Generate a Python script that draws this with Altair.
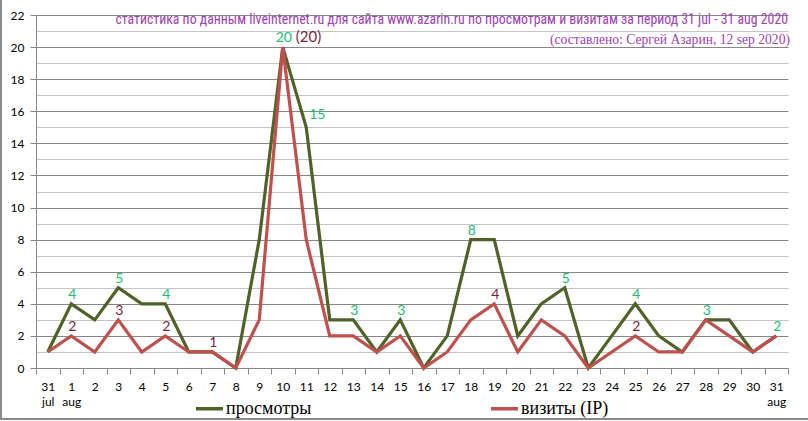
import json
import altair as alt
import pandas as pd

# ---- data -------------------------------------------------------------
days = ["31", "1", "2", "3", "4", "5", "6", "7", "8", "9", "10", "11", "12", "13", "14", "15",
        "16", "17", "18", "19", "20", "21", "22", "23", "24", "25", "26", "27", "28", "29", "30", "31"]
months = ["jul", "aug"] + [""] * 29 + ["aug"]
views = [1, 4, 3, 5, 4, 4, 1, 1, 0, 8, 20, 15, 3, 3, 1, 3,
         0, 2, 8, 8, 2, 4, 5, 0, 2, 4, 2, 1, 3, 3, 1, 2]
visits = [1, 2, 1, 3, 1, 2, 1, 1, 0, 3, 20, 8, 2, 2, 1, 2,
          0, 1, 3, 4, 1, 3, 2, 0, 1, 2, 1, 1, 3, 2, 1, 2]
series_names = ["просмотры", "визиты (IP)"]
views_labeled = [1, 3, 5, 10, 11, 13, 15, 18, 22, 25, 28, 31]
visits_labeled = [1, 3, 5, 7, 10, 19, 25]
title_text = ["статистика по данным liveinternet.ru для сайта www.azarin.ru по просмотрам и визитам за период 31 jul - 31 aug 2020"]
subtitle_text = ["(составлено: Сергей Азарин, 12 sep 2020)"]

# ---- styling ----------------------------------------------------------
GREEN = "#4f6228"
RED = "#c0504d"
GREEN_LBL = "#22bb77"
RED_LBL = "#7a1f40"
TITLE_CLR = "#a040b0"
AXIS_GREY = "#868686"
W, H = 752, 353
n = len(days)
step = W / n

rows = []
for i in range(n):
    rows.append({"idx": i, "series": series_names[0], "value": views[i],
                 "lab": 1 if i in views_labeled else 0,
                 "text": str(views[i])})
    rows.append({"idx": i, "series": series_names[1], "value": visits[i],
                 "lab": 1 if i in visits_labeled else 0,
                 "text": str(visits[i])})
df = pd.DataFrame(rows)

days_js = json.dumps(days)
months_js = json.dumps(months)
label_expr = (
    f"(datum.value + 0.5) > {n - 1} ? '' : "
    f"({months_js}[datum.value + 0.5] ? [{days_js}[datum.value + 0.5], {months_js}[datum.value + 0.5]]"
    f" : {days_js}[datum.value + 0.5])"
)

x_enc = alt.X(
    "idx:Q",
    scale=alt.Scale(domain=[-0.5, n - 0.5], nice=False, zero=False),
    axis=alt.Axis(
        values=[i - 0.5 for i in range(n + 1)],
        labelExpr=label_expr,
        labelOffset=step / 2,
        labelOverlap=False,
        labelBound=False,
        labelFlush=False,
        labelFont="Lato",
        labelFontSize=12,
        labelColor="#000000",
        labelPadding=7,
        labelLineHeight=15,
        labelBaseline="top",
        tickSize=6,
        tickColor=AXIS_GREY,
        domainColor=AXIS_GREY,
        grid=False,
        title=None,
    ),
)
y_enc = alt.Y(
    "value:Q",
    scale=alt.Scale(domain=[0, 22], nice=False, zero=True),
    axis=alt.Axis(
        values=list(range(23)),
        labelExpr="datum.value % 2 === 0 ? datum.label : ''",
        labelFont="Lato",
        labelFontSize=12,
        labelColor="#000000",
        labelPadding=6,
        tickSize=6,
        tickColor=AXIS_GREY,
        tickOpacity={"condition": {"test": "datum.value % 2 === 0", "value": 1}, "value": 0},
        gridColor={"condition": {"test": "datum.value % 2 === 0", "value": AXIS_GREY}, "value": "#c4c4c4"},
        gridWidth=1,
        grid=True,
        domainColor=AXIS_GREY,
        title=None,
    ),
)
color_enc = alt.Color(
    "series:N",
    scale=alt.Scale(domain=series_names, range=[GREEN, RED]),
    legend=alt.Legend(
        title=None,
        orient="none",
        legendX=158,
        legendY=378,
        direction="horizontal",
        symbolType="stroke",
        symbolSize=729,
        symbolStrokeWidth=3.5,
        labelFont="Liberation Serif",
        labelFontSize=18,
        labelColor="#000000",
        labelOffset=1,
        columnPadding=172,
    ),
)

base = alt.Chart(df).encode(x=x_enc, y=y_enc)

line_views = base.transform_filter(alt.datum.series == series_names[0]).mark_line(
    strokeWidth=3.2).encode(color=color_enc)
line_visits = base.transform_filter(alt.datum.series == series_names[1]).mark_line(
    strokeWidth=3.2).encode(color=color_enc)

lbl_views = base.transform_filter(
    (alt.datum.series == series_names[0]) & (alt.datum.lab == 1) & (alt.datum.idx != 11)
).mark_text(font="Lato", fontSize=14, color=GREEN_LBL, align="center", baseline="bottom", dy=-2, dx=1).encode(
    text="text:N")
lbl_views_r = base.transform_filter(
    (alt.datum.series == series_names[0]) & (alt.datum.lab == 1) & (alt.datum.idx == 11)
).mark_text(font="Lato", fontSize=14, color=GREEN_LBL, align="left", baseline="bottom", dy=-5, dx=3).encode(
    text="text:N")
lbl_visits = base.transform_filter(
    (alt.datum.series == series_names[1]) & (alt.datum.lab == 1) & (alt.datum.idx != 10)
).mark_text(font="Lato", fontSize=14, color=RED_LBL, align="center", baseline="bottom", dy=-2, dx=1).encode(
    text="text:N")
lbl_visits_r = base.transform_filter(
    (alt.datum.series == series_names[1]) & (alt.datum.lab == 1) & (alt.datum.idx == 10)
).transform_calculate(t2="'(' + datum.text + ')'").mark_text(
    font="Lato", fontSize=15, color=RED_LBL, align="left", baseline="bottom", dy=-2, dx=13).encode(
    text="t2:N")

title1 = alt.Chart(pd.DataFrame({"t": title_text})).mark_text(
    font="Roboto Condensed, Roboto", fontSize=13.8, color=TITLE_CLR, align="right", baseline="middle"
).encode(x=alt.value(W), y=alt.value(5), text="t:N")
title2 = alt.Chart(pd.DataFrame({"t": subtitle_text})).mark_text(
    font="Liberation Serif", fontSize=13.6, color=TITLE_CLR, align="right", baseline="middle"
).encode(x=alt.value(W + 2), y=alt.value(25), text="t:N")

frame_bottom = alt.Chart(pd.DataFrame({"a": [0]})).mark_rule(color="#8a8a8a", strokeWidth=2).encode(
    x=alt.value(-36), x2=alt.value(W + 20), y=alt.value(H + 51))
frame_left = alt.Chart(pd.DataFrame({"a": [0]})).mark_rule(color="#8a8a8a", strokeWidth=2).encode(
    x=alt.value(-35), y=alt.value(-15), y2=alt.value(H + 52))

chart = alt.layer(
    line_views, line_visits, lbl_views, lbl_views_r, lbl_visits, lbl_visits_r,
    title1, title2, frame_bottom, frame_left,
).properties(
    width=W, height=H,
    autosize=alt.AutoSizeParams(type="none"),
    padding={"left": 36, "top": 15, "right": 20, "bottom": 53},
    background="#ffffff",
).configure_view(stroke=None)

chart.save("out.html", embed_options={"renderer": "svg", "actions": False})
